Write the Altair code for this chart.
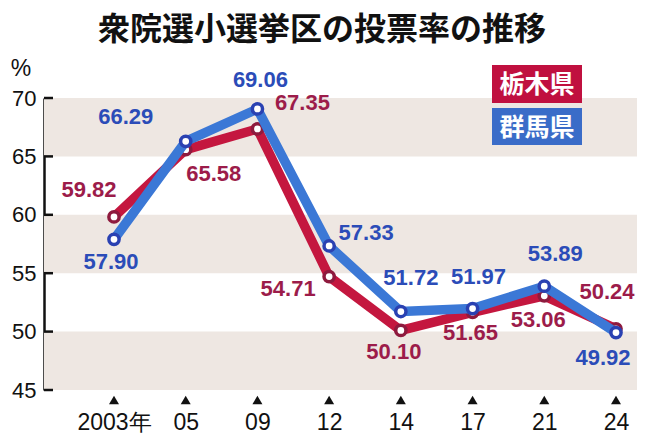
import altair as alt
import pandas as pd

# ---- data ----
years = ["2003年", "05", "09", "12", "14", "17", "21", "24"]
tochigi = [59.82, 65.58, 67.35, 54.71, 50.10, 51.65, 53.06, 50.24]
gunma = [57.90, 66.29, 69.06, 57.33, 51.72, 51.97, 53.89, 49.92]
series_names = ["栃木県", "群馬県"]
y_ticks = [45, 50, 55, 60, 65, 70]
band_lo = [45, 55, 65]
band_hi = [50, 60, 70]

# label placement (pixel offsets from each point)
t_dx = [-25, 28, 45, -41, -7, -2, -6, -9]
t_dy = [-27, 24, -26, 12, 22, 21, 24, -37]
g_dx = [-3, -60, 3, 37, 10, 6, 11, -13]
g_dy = [23, -24, -29, -13, -34, -32, -32, 25]

W, H = 593, 292
XMIN, XMAX = -0.976, 7.293
YMIN, YMAX = 45, 70
PX_X = W / (XMAX - XMIN)
PX_Y = H / (YMAX - YMIN)

RED_LINE, RED_DARK, RED_TEXT = "#c4173f", "#8e1a3e", "#9c1c4a"
BLUE_LINE, BLUE_DARK, BLUE_TEXT = "#3b78d6", "#2a41b2", "#2b4cb8"
BAND = "#eee7e2"
NUM_FONT = "Liberation Sans, Arial, sans-serif"
JP_FONT = "Noto Sans CJK JP"

idx = list(range(len(years)))
df_t = pd.DataFrame({"i": idx, "v": tochigi, "dx": t_dx, "dy": t_dy})
df_g = pd.DataFrame({"i": idx, "v": gunma, "dx": g_dx, "dy": g_dy})
df_band = pd.DataFrame({"lo": band_lo, "hi": band_hi})
df_ticks = pd.DataFrame({"t": y_ticks})
df_x = pd.DataFrame({"i": idx})

xs = alt.Scale(domain=[XMIN, XMAX], nice=False, zero=False)
ys = alt.Scale(domain=[YMIN, YMAX], nice=False, zero=False)

label_expr = "[" + ",".join("'%s'" % y for y in years) + "][datum.value]"

x_axis = alt.Axis(values=idx, labelExpr=label_expr, domain=False, ticks=False,
                  grid=False, title=None, labelFont=NUM_FONT, labelFontSize=23,
                  labelColor="#111", labelBaseline="middle", labelPadding=32)
y_axis = alt.Axis(values=y_ticks, domain=True, domainColor="#111", domainWidth=2.5,
                  ticks=False, grid=False, title=None, labelFont=NUM_FONT,
                  labelFontSize=22, labelColor="#111", labelPadding=8)

bands = alt.Chart(df_band).mark_rect(color=BAND).encode(
    x=alt.value(0), x2=alt.value(W),
    y=alt.Y("lo:Q", scale=ys, axis=y_axis), y2="hi:Q")

ticks = alt.Chart(df_ticks).mark_rule(color="#111", strokeWidth=2.5).encode(
    y=alt.Y("t:Q", scale=ys), x=alt.value(0), x2=alt.value(9))

tri = alt.Chart(df_x).mark_point(shape="triangle-up", filled=True, color="#111",
                                 size=100, opacity=1).encode(
    x=alt.X("i:Q", scale=xs, axis=x_axis), y=alt.value(H + 10))


def series(df, line_c, dark_c, text_c):
    base = alt.Chart(df)
    line = base.mark_line(color=line_c, strokeWidth=9.5, strokeJoin="round").encode(
        x=alt.X("i:Q", scale=xs), y=alt.Y("v:Q", scale=ys))
    pts = base.mark_point(shape="circle", filled=True, fill="white", stroke=dark_c,
                          strokeWidth=3.5, size=105, opacity=1).encode(
        x=alt.X("i:Q", scale=xs), y=alt.Y("v:Q", scale=ys))
    txt = base.transform_calculate(
        lx="datum.i + datum.dx / %f" % PX_X,
        ly="datum.v - datum.dy / %f" % PX_Y,
        lab="format(datum.v, '.2f')",
    ).mark_text(font=NUM_FONT, fontSize=22, fontWeight="bold", color=text_c,
                baseline="middle", align="center").encode(
        x=alt.X("lx:Q", scale=xs), y=alt.Y("ly:Q", scale=ys), text="lab:N")
    return line, pts, txt


rl, rp, rt = series(df_t, RED_LINE, RED_DARK, RED_TEXT)
bl, bp, bt = series(df_g, BLUE_LINE, BLUE_DARK, BLUE_TEXT)

# title, unit, legend boxes (decoration)
title = alt.Chart(df_x.head(1)).mark_text(
    text="衆院選小選挙区の投票率の推移", font=JP_FONT, fontSize=32, fontWeight="bold",
    color="#111", align="center", baseline="middle").encode(
    x=alt.value(278), y=alt.value(-68))
unit = alt.Chart(df_x.head(1)).mark_text(
    text="%", font=NUM_FONT, fontSize=23, color="#111", align="center",
    baseline="middle").encode(x=alt.value(-23), y=alt.value(-29))

df_leg = pd.DataFrame({"name": series_names})
leg_rects = []
for k, (c, y0, y1) in enumerate([("#c0103f", -33, 5), ("#3a6cc8", 10, 47)]):
    leg_rects.append(alt.Chart(df_leg.iloc[[k]]).mark_rect(color=c).encode(
        x=alt.value(448), x2=alt.value(538), y=alt.value(y0), y2=alt.value(y1)))
    leg_rects.append(alt.Chart(df_leg.iloc[[k]]).mark_text(
        font=JP_FONT, fontSize=25, fontWeight="bold", color="white",
        align="center", baseline="middle").encode(
        x=alt.value(493), y=alt.value((y0 + y1) / 2 + 1), text="name:N"))

chart = alt.layer(bands, ticks, tri, rl, rp, bl, bp, rt, bt, title, unit,
                  *leg_rects).properties(
    width=W, height=H,
    padding={"left": 36, "top": 90, "right": 5, "bottom": 44},
    autosize=alt.AutoSizeParams(type="none"),
    background="white",
).configure_view(stroke=None)

chart.save("out.html", embed_options={"renderer": "svg", "actions": False})
